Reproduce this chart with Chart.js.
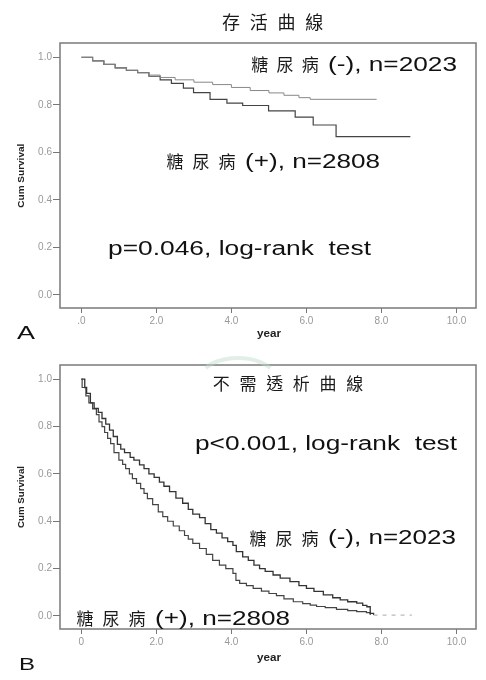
<!DOCTYPE html>
<html>
<head>
<meta charset="utf-8">
<script src="https://cdn.jsdelivr.net/npm/chart.js@4"></script>
<style>
  body { margin: 0; background: #fff; }
  canvas { display: block; }
</style>
</head>
<body>
<canvas id="chartA" width="486" height="340"></canvas>
<canvas id="chartB" width="486" height="340"></canvas>
<script>
// axis ticks
const xTicks = [0, 2, 4, 6, 8, 10];
const xTickLabelsA = ['.0', '2.0', '4.0', '6.0', '8.0', '10.0'];
const xTickLabelsB = ['0', '2.0', '4.0', '6.0', '8.0', '10.0'];
const yTicks = [0, 0.2, 0.4, 0.6, 0.8, 1.0];
const yTickLabels = ['0.0', '0.2', '0.4', '0.6', '0.8', '1.0'];

// panel A - 存活曲線
const survNoDmYears = [0, 0.3, 0.6, 0.9, 1.2, 1.5, 1.8, 2.1, 2.5, 3.0, 3.5, 4.0, 4.5, 5.0, 5.4, 5.8, 6.1, 7.87];
const survNoDm      = [1.0, 0.985, 0.97, 0.955, 0.945, 0.935, 0.925, 0.915, 0.905, 0.895, 0.885, 0.873, 0.86, 0.85, 0.84, 0.83, 0.823, 0.823];
const survDmYears   = [0, 0.3, 0.6, 0.9, 1.2, 1.5, 1.8, 2.1, 2.4, 2.72, 2.99, 3.43, 3.88, 4.3, 4.99, 5.7, 6.18, 6.79, 8.77];
const survDm        = [1.0, 0.985, 0.97, 0.955, 0.945, 0.935, 0.92, 0.905, 0.89, 0.87, 0.851, 0.823, 0.807, 0.797, 0.774, 0.748, 0.715, 0.666, 0.666];

// panel B - 不需透析曲線
const dialNoDmYears = [0, 0.09, 0.14, 0.24, 0.34, 0.45, 0.55, 0.65, 0.75, 0.85, 0.96, 1.05, 1.15, 1.3, 1.4, 1.55, 1.67, 1.8, 1.94,
  2.08, 2.2, 2.35, 2.52, 2.7, 2.85, 2.97, 3.15, 3.3, 3.45, 3.6, 3.75, 3.9, 4.04, 4.13, 4.3, 4.45, 4.6, 4.75, 4.9,
  5.11, 5.3, 5.56, 5.8, 6.0, 6.2, 6.45, 6.7, 6.9, 7.1, 7.34, 7.5, 7.61, 7.7, 7.79, 8.81];
const dialNoDm      = [1.0, 0.965, 0.94, 0.9, 0.877, 0.86, 0.834, 0.81, 0.785, 0.758, 0.725, 0.705, 0.69, 0.67, 0.658, 0.638, 0.622, 0.6, 0.585,
  0.565, 0.548, 0.525, 0.498, 0.476, 0.45, 0.43, 0.415, 0.39, 0.365, 0.35, 0.33, 0.314, 0.298, 0.272, 0.25, 0.235, 0.215, 0.2, 0.188,
  0.173, 0.16, 0.145, 0.128, 0.117, 0.104, 0.089, 0.077, 0.068, 0.06, 0.054, 0.045, 0.039, 0.011, 0.004, 0.004];
const dialDmYears   = [0, 0.02, 0.12, 0.2, 0.3, 0.4, 0.47, 0.55, 0.62, 0.7, 0.78, 0.87, 1.0, 1.1, 1.18, 1.28, 1.36, 1.47, 1.58, 1.67, 1.76,
  1.9, 2.05, 2.17, 2.3, 2.45, 2.61, 2.75, 2.85, 2.97, 3.15, 3.33, 3.5, 3.68, 3.85, 4.04, 4.12, 4.22, 4.4, 4.58, 4.8,
  5.0, 5.2, 5.4, 5.65, 5.9, 6.1, 6.27, 6.5, 6.8, 7.1, 7.34, 7.6, 7.7];
const dialDm        = [1.0, 0.965, 0.93, 0.9, 0.875, 0.85, 0.82, 0.8, 0.775, 0.75, 0.728, 0.69, 0.658, 0.64, 0.622, 0.6, 0.58, 0.56, 0.538, 0.518, 0.496,
  0.47, 0.44, 0.42, 0.4, 0.38, 0.36, 0.34, 0.325, 0.307, 0.285, 0.26, 0.235, 0.215, 0.2, 0.18, 0.15, 0.138, 0.128, 0.117, 0.105,
  0.095, 0.086, 0.072, 0.06, 0.052, 0.046, 0.04, 0.035, 0.028, 0.023, 0.018, 0.014, 0.004];

const CJK = '"Noto Sans CJK TC", "Noto Sans CJK SC", sans-serif';
const LAT = '"Liberation Sans", Arial, sans-serif';

function toXY(xs, ys) {
  return xs.map((x, i) => ({ x: x, y: ys[i] }));
}

// draw text squeezed / stretched to a given width
function fitText(ctx, text, x, y, w, font, color) {
  ctx.save();
  ctx.font = font;
  ctx.fillStyle = color || '#111';
  ctx.textAlign = 'left';
  ctx.textBaseline = 'alphabetic';
  const m = ctx.measureText(text).width;
  ctx.translate(x, y);
  ctx.scale(w / m, 1);
  ctx.fillText(text, 0, 0);
  ctx.restore();
}

// CJK chars spread evenly between x0 and x1
function spacedText(ctx, text, x0, x1, yMid, font, color) {
  const chars = Array.from(text);
  const step = (x1 - x0) / chars.length;
  ctx.save();
  ctx.font = font;
  ctx.fillStyle = color || '#1a1a1a';
  ctx.textAlign = 'center';
  ctx.textBaseline = 'middle';
  chars.forEach((c, i) => ctx.fillText(c, x0 + step * (i + 0.5), yMid));
  ctx.restore();
}

function rotatedFit(ctx, text, cx, cy, w, font) {
  ctx.save();
  ctx.translate(cx, cy);
  ctx.rotate(-Math.PI / 2);
  ctx.font = font;
  const m = ctx.measureText(text).width;
  ctx.scale(w / m, 1);
  ctx.fillStyle = '#222';
  ctx.textAlign = 'center';
  ctx.textBaseline = 'middle';
  ctx.fillText(text, 0, 0);
  ctx.restore();
}

function framePlugin(drawTexts) {
  return {
    id: 'frameTexts',
    afterDraw(chart) {
      const ctx = chart.ctx;
      const a = chart.chartArea;
      ctx.save();
      ctx.strokeStyle = '#7a7a7a';
      ctx.lineWidth = 1.5;
      ctx.strokeRect(a.left, a.top, a.right - a.left, a.bottom - a.top);
      ctx.restore();
      drawTexts(ctx);
    }
  };
}

function makeOptions(xLabels, padTop, xHeight) {
  return {
    responsive: false,
    animation: false,
    devicePixelRatio: 1,
    layout: { padding: { top: padTop, right: 10, left: 0, bottom: 0 } },
    plugins: { legend: { display: false }, tooltip: { enabled: false } },
    elements: { point: { radius: 0 } },
    scales: {
      x: {
        type: 'linear',
        min: -0.57,
        max: 10.52,
        afterBuildTicks: s => { s.ticks = xTicks.map(v => ({ value: v })); },
        afterFit: s => { s.height = xHeight; },
        ticks: {
          autoSkip: false, maxRotation: 0, padding: 2, color: '#999',
          font: { family: LAT, size: 10 },
          callback: (v, i) => xLabels[i]
        },
        grid: { drawOnChartArea: false, drawTicks: true, tickLength: 5, color: '#777' },
        border: { display: false }
      },
      y: {
        min: -0.055,
        max: 1.06,
        afterBuildTicks: s => { s.ticks = yTicks.map(v => ({ value: v })); },
        afterFit: s => { s.width = 60; },
        ticks: {
          autoSkip: false, padding: 1, color: '#999',
          font: { family: LAT, size: 10 },
          callback: (v, i) => yTickLabels[i]
        },
        grid: { drawOnChartArea: false, drawTicks: true, tickLength: 7, color: '#777' },
        border: { display: false }
      }
    }
  };
}

// ---- A
new Chart(document.getElementById('chartA'), {
  type: 'line',
  data: {
    datasets: [
      { label: '糖尿病(-)', data: toXY(survNoDmYears, survNoDm), stepped: true, borderColor: '#888', borderWidth: 1 },
      { label: '糖尿病(+)', data: toXY(survDmYears, survDm), stepped: true, borderColor: '#444', borderWidth: 1.2 }
    ]
  },
  options: makeOptions(xTickLabelsA, 43, 32),
  plugins: [framePlugin(ctx => {
    spacedText(ctx, '存活曲線', 217, 328, 22, '18px ' + CJK);
    spacedText(ctx, '糖尿病', 247, 323, 65, '17px ' + CJK);
    fitText(ctx, '(-), n=2023', 328, 71, 129, '20px ' + LAT);
    spacedText(ctx, '糖尿病', 162, 240, 161.5, '17px ' + CJK);
    fitText(ctx, '(+), n=2808', 245, 167.7, 135, '20px ' + LAT);
    fitText(ctx, 'p=0.046, log-rank  test', 108, 255, 263, '20px ' + LAT);
    rotatedFit(ctx, 'Cum Survival', 21.7, 175.7, 64, 'bold 9px ' + LAT);
    fitText(ctx, 'year', 257, 337, 24, 'bold 10px ' + LAT, '#222');
    fitText(ctx, 'A', 17, 339, 18, '18px ' + LAT);
  })]
});

// ---- B
new Chart(document.getElementById('chartB'), {
  type: 'line',
  data: {
    datasets: [
      {
        label: '糖尿病(-)', data: toXY(dialNoDmYears, dialNoDm), stepped: true, borderColor: '#333', borderWidth: 1.3,
        segment: {
          borderDash: c => c.p0DataIndex >= dialNoDm.length - 2 ? [4, 5] : undefined,
          borderColor: c => c.p0DataIndex >= dialNoDm.length - 2 ? '#bbb' : undefined
        }
      },
      { label: '糖尿病(+)', data: toXY(dialDmYears, dialDm), stepped: true, borderColor: '#444', borderWidth: 1.2 }
    ]
  },
  options: makeOptions(xTickLabelsB, 25, 51),
  plugins: [framePlugin(ctx => {
    // faint watermark arc above the frame
    ctx.save();
    ctx.strokeStyle = 'rgba(190,220,200,0.45)';
    ctx.lineWidth = 4;
    ctx.beginPath();
    ctx.ellipse(238, 42, 40, 24, 0, Math.PI * 1.2, Math.PI * 1.8);
    ctx.stroke();
    ctx.restore();

    spacedText(ctx, '不需透析曲線', 208, 368, 43.3, '17px ' + CJK);
    fitText(ctx, 'p<0.001, log-rank  test', 195, 110, 262, '20px ' + LAT);
    spacedText(ctx, '糖尿病', 245, 323, 198.3, '17px ' + CJK);
    fitText(ctx, '(-), n=2023', 328, 204, 128, '20px ' + LAT);
    spacedText(ctx, '糖尿病', 72, 150, 278.3, '17px ' + CJK);
    fitText(ctx, '(+), n=2808', 155, 285, 135, '20px ' + LAT);
    rotatedFit(ctx, 'Cum Survival', 21.7, 157, 62, 'bold 9px ' + LAT);
    fitText(ctx, 'year', 257, 321, 24, 'bold 10px ' + LAT, '#222');
    fitText(ctx, 'B', 19, 330, 16, '17px ' + LAT);
  })]
});
</script>
</body>
</html>
